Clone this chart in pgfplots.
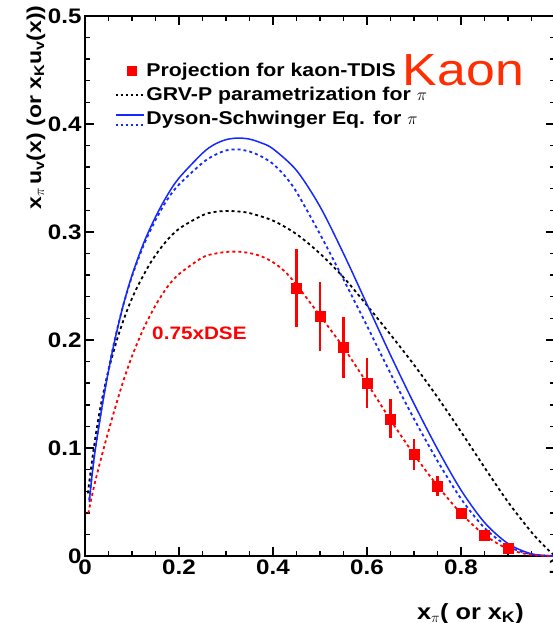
\documentclass[border=0pt]{standalone}
\usepackage{fontspec}
\setmainfont{Liberation Sans}[FakeStretch=1.15]
\usepackage{pgfplots}
\pgfplotsset{compat=1.18}
\definecolor{kaonred}{RGB}{255,45,0}
\definecolor{dseblue}{RGB}{20,40,255}

\begin{document}
\begin{tikzpicture}
\begin{axis}[
  width=470pt, height=540pt, scale only axis,
  xmin=0, xmax=1, ymin=0, ymax=0.5,
  xtick={0,0.2,0.4,0.6,0.8,1},
  ytick={0,0.1,0.2,0.3,0.4,0.5},
  minor x tick num=3, minor y tick num=4,
  tick align=inside,
  major tick length=9pt, minor tick length=5pt,
  every tick/.style={black, line width=1.4pt},
  axis line style={line width=1.8pt},
  tick label style={font=\fontsize{21}{24}\selectfont\bfseries},
  /pgf/number format/assume math mode=true,
  xlabel={x\textsubscript{$\pi$}( or x\textsubscript{K})},
  xlabel style={at={(axis description cs:0.706,-0.1167)}, anchor=base west,
    inner sep=0pt, font=\fontsize{22}{26}\selectfont\bfseries},
  ylabel={x\textsubscript{$\pi$}\,u\textsubscript{v}(x) (or x\textsubscript{K}u\textsubscript{v}(x))},
  ylabel style={at={(axis description cs:-0.0936,1.02)}, anchor=base east,
    inner sep=0pt, font=\fontsize{20}{24}\selectfont\bfseries},
  legend style={at={(axis cs:0.063,0.458)}, anchor=north west,
    draw=none, fill=none, inner sep=0pt,
    font=\fontsize{18.5}{21}\selectfont\bfseries, row sep=5pt},
  legend cell align=left,
]

% legend entries
\addlegendimage{legend image code/.code={
  \draw[red] plot[mark=square*, mark size=4.5pt] coordinates {(16pt,0pt)};}}
\addlegendentry{Projection for kaon-TDIS}
\addlegendimage{legend image code/.code={
  \draw[black, line width=1.6pt, dash pattern=on 2.5pt off 2.5pt] (0pt,0pt) -- (28pt,0pt);}}
\addlegendentry{GRV-P parametrization for $\pi$}
\addlegendimage{legend image code/.code={
  \draw[dseblue, line width=1.4pt] (0pt,4pt) -- (28pt,4pt);
  \draw[dseblue, line width=1.6pt, dash pattern=on 2.5pt off 2.5pt] (0pt,-6pt) -- (28pt,-6pt);}}
\addlegendentry{Dyson-Schwinger Eq. for $\pi$}

% GRV-P pion
\addplot[forget plot, black, line width=1.8pt, dash pattern=on 3pt off 3pt, smooth] coordinates {
  (0.006,0.058)(0.018,0.098)(0.032,0.136)(0.05,0.172)(0.07,0.203)(0.09,0.228)
  (0.11,0.248)(0.14,0.272)(0.17,0.290)(0.20,0.303)(0.25,0.3155)(0.275,0.3185)
  (0.30,0.3195)(0.325,0.319)(0.35,0.3175)(0.40,0.3105)(0.45,0.298)(0.50,0.280)
  (0.55,0.258)(0.60,0.232)(0.65,0.205)(0.70,0.177)(0.75,0.147)(0.80,0.115)
  (0.85,0.082)(0.90,0.050)(0.95,0.022)(0.98,0.008)(1.00,0.0)
};

% DSE dashed
\addplot[forget plot, dseblue, line width=1.8pt, dash pattern=on 3pt off 3pt, smooth] coordinates {
  (0.009,0.052)(0.02,0.094)(0.04,0.149)(0.06,0.194)(0.08,0.230)(0.10,0.259)
  (0.125,0.288)(0.15,0.311)(0.175,0.330)(0.20,0.344)(0.25,0.364)(0.275,0.371)
  (0.30,0.3755)(0.325,0.3765)(0.35,0.3745)(0.375,0.370)(0.40,0.363)(0.425,0.352)
  (0.45,0.337)(0.50,0.298)(0.55,0.256)(0.60,0.213)(0.65,0.169)(0.70,0.127)
  (0.75,0.088)(0.80,0.053)(0.85,0.026)(0.90,0.009)(0.95,0.0015)(1.00,0.0)
};

% DSE solid
\addplot[forget plot, dseblue, line width=1.5pt, smooth] coordinates {
  (0.009,0.050)(0.02,0.093)(0.04,0.148)(0.06,0.193)(0.08,0.230)(0.10,0.260)
  (0.125,0.290)(0.15,0.314)(0.175,0.334)(0.20,0.350)(0.25,0.373)(0.275,0.381)
  (0.30,0.3855)(0.325,0.387)(0.35,0.386)(0.375,0.3825)(0.40,0.377)(0.45,0.357)
  (0.50,0.3235)(0.55,0.280)(0.60,0.233)(0.65,0.186)(0.70,0.141)(0.75,0.099)
  (0.80,0.061)(0.85,0.031)(0.90,0.0115)(0.95,0.002)(1.00,0.0)
};

% 0.75 x DSE
\addplot[forget plot, red, line width=1.8pt, dash pattern=on 3pt off 3pt, smooth] coordinates {
  (0.007,0.0395)(0.02,0.066)(0.04,0.100)(0.06,0.131)(0.08,0.160)(0.10,0.185)
  (0.125,0.211)(0.15,0.232)(0.175,0.249)(0.20,0.261)(0.25,0.2765)(0.275,0.2798)
  (0.30,0.2815)(0.325,0.2818)(0.35,0.2805)(0.375,0.2775)(0.40,0.272)(0.425,0.2635)
  (0.45,0.251)(0.50,0.2225)(0.55,0.193)(0.60,0.160)(0.65,0.126)(0.70,0.094)
  (0.75,0.065)(0.80,0.0395)(0.85,0.0195)(0.90,0.0065)(0.95,0.001)(1.00,0.0)
};

% kaon-TDIS projection
\addplot[forget plot, only marks, mark=square*, mark size=5pt, red,
  error bars/.cd, y dir=both, y explicit, error mark=none,
  error bar style={line width=2.2pt, red}] coordinates {
  (0.45,0.248) +- (0,0.036)
  (0.50,0.222) +- (0,0.032)
  (0.55,0.193) +- (0,0.028)
  (0.60,0.160) +- (0,0.023)
  (0.65,0.127) +- (0,0.018)
  (0.70,0.094) +- (0,0.014)
  (0.75,0.065) +- (0,0.009)
  (0.80,0.0395) +- (0,0.005)
  (0.85,0.0195) +- (0,0.003)
  (0.90,0.007) +- (0,0.002)
};

\node[anchor=base west, inner sep=0pt, text=kaonred,
  font=\fontsize{45}{50}\selectfont] at (axis cs:0.676,0.436) {Kaon};
\node[anchor=base west, inner sep=0pt, text=red,
  font=\fontsize{18}{21}\selectfont\bfseries] at (axis cs:0.1426,0.2) {0.75xDSE};

\path (rel axis cs:-0.1809,-0.12407) coordinate (bbSW);
\path (rel axis cs:0.99362,1.02963) coordinate (bbNE);
\end{axis}
\pgfresetboundingbox
\useasboundingbox (bbSW) rectangle (bbNE);
\end{tikzpicture}
\end{document}
